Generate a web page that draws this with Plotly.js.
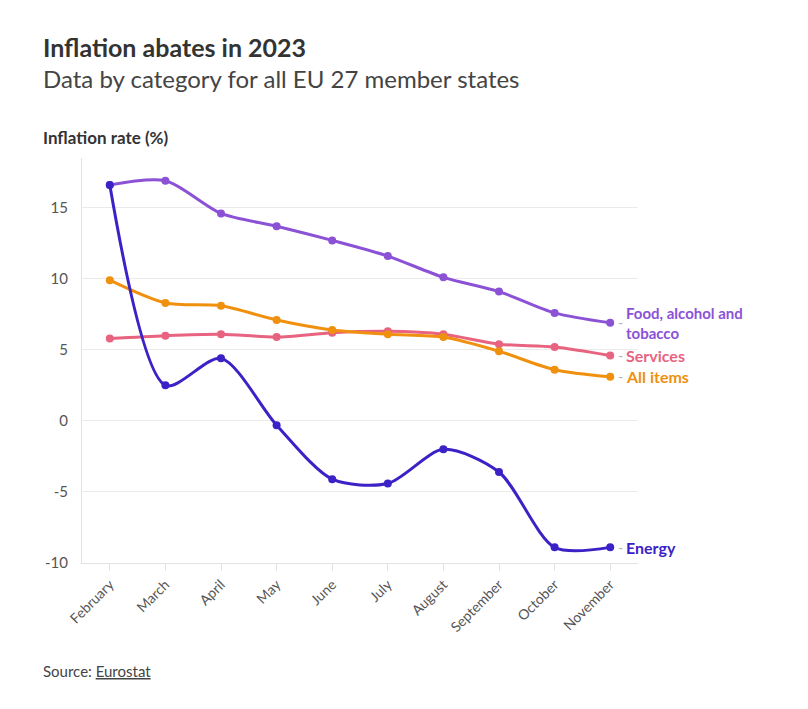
<!DOCTYPE html>
<html>
<head>
<meta charset="utf-8">
<script src="https://cdn.plot.ly/plotly-3.0.1.min.js"></script>
<style>
html,body{margin:0;padding:0;background:#fff;}
#chart{width:808px;height:709px;}
</style>
</head>
<body>
<div id="chart"></div>
<script>
const months = ["February","March","April","May","June","July","August","September","October","November"];
const foodAlcoholTobacco = [16.6, 16.9, 14.6, 13.7, 12.7, 11.6, 10.1, 9.1, 7.6, 6.9];
const services = [5.8, 6.0, 6.1, 5.9, 6.2, 6.3, 6.1, 5.4, 5.2, 4.6];
const allItems = [9.9, 8.3, 8.1, 7.1, 6.4, 6.1, 5.9, 4.9, 3.6, 3.1];
const energy = [16.6, 2.5, 4.4, -0.3, -4.1, -4.4, -2.0, -3.6, -8.9, -8.9];
const yTicks = [-10, -5, 0, 5, 10, 15];

const FONT = "Lato, 'Source Sans Pro', 'Noto Sans', sans-serif";
const colors = {food:"#8b52d6", services:"#e8637f", all:"#f0900f", energy:"#3a22c6"};

function series(name, y, color){
  return {x: months, y: y, name: name, type: "scatter", mode: "lines+markers",
    line: {color: color, width: 3, shape: "spline", smoothing: 0.8},
    marker: {color: color, size: 8}, hoverinfo: "skip"};
}
const traces = [
  series("Services", services, colors.services),
  series("All items", allItems, colors.all),
  series("Food, alcohol and tobacco", foodAlcoholTobacco, colors.food),
  series("Energy", energy, colors.energy)
];

const last = months.length - 1;
function dash(y){
  return {x: months[last], y: y, xref: "x", yref: "y", xanchor: "left", yanchor: "middle",
    xshift: 6, showarrow: false, text: "-", font: {family: FONT, size: 14, color: "#b0b0b0"}};
}
function label(text, y, color, size){
  return {x: months[last], y: y, xref: "x", yref: "y", xanchor: "left", yanchor: "middle",
    xshift: 14, showarrow: false, align: "left",
    text: "<b>" + text + "</b>", font: {family: FONT, size: size || 16, color: color}};
}
const annotations = [
  dash(foodAlcoholTobacco[last]),
  label("Food, alcohol and<br>tobacco", foodAlcoholTobacco[last], colors.food, 15),
  dash(services[last]),
  label("Services", services[last], colors.services),
  dash(allItems[last]),
  label("All items", allItems[last], colors.all),
  dash(energy[last]),
  label("Energy", energy[last], colors.energy),
  {xref:"paper", yref:"paper", x:0, y:1, xanchor:"left", yanchor:"middle", xshift:-41, yshift:111,
   showarrow:false, text:"<b>Inflation abates in 2023</b>", font:{family:FONT, size:25, color:"#333333"}},
  {xref:"paper", yref:"paper", x:0, y:1, xanchor:"left", yanchor:"middle", xshift:-41, yshift:80,
   showarrow:false, text:"Data by category for all EU 27 member states", font:{family:FONT, size:24, color:"#444444"}},
  {xref:"paper", yref:"paper", x:0, y:1, xanchor:"left", yanchor:"middle", xshift:-41, yshift:21,
   showarrow:false, text:"<b>Inflation rate (%)</b>", font:{family:FONT, size:17, color:"#333333"}},
  {xref:"paper", yref:"paper", x:0, y:0, xanchor:"left", yanchor:"middle", xshift:-41, yshift:-108,
   showarrow:false, text:"Source: <u>Eurostat</u>", font:{family:FONT, size:15, color:"#444444"}}
];

const layout = {
  width: 808, height: 709,
  margin: {l: 82, r: 170, t: 158, b: 146},
  paper_bgcolor: "#ffffff", plot_bgcolor: "#ffffff",
  showlegend: false,
  font: {family: FONT, color: "#555555"},
  xaxis: {type: "category", range: [-0.5, 9.5], tickangle: -45,
    showgrid: false, showline: true, linecolor: "#e3e3e3", linewidth: 1,
    ticks: "outside", ticklen: 7, tickcolor: "#e3e3e3",
    tickfont: {family: FONT, size: 14, color: "#555555"}, zeroline: false, fixedrange: true},
  yaxis: {range: [-10, 18.5], tickvals: yTicks, ticktext: yTicks.map(String),
    showgrid: true, gridcolor: "#ebebeb", gridwidth: 1,
    showline: true, linecolor: "#e3e3e3", linewidth: 1,
    ticks: "outside", ticklen: 10, tickcolor: "rgba(0,0,0,0)",
    zeroline: false, tickfont: {family: FONT, size: 15, color: "#555555"}, fixedrange: true},
  annotations: annotations
};

Plotly.newPlot("chart", traces, layout, {displayModeBar: false, staticPlot: true});
</script>
</body>
</html>
